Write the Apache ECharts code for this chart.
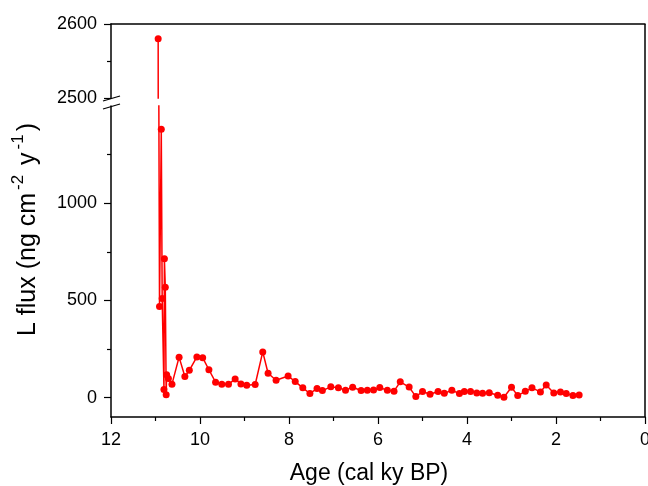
<!DOCTYPE html>
<html>
<head>
<meta charset="utf-8">
<script src="https://cdn.jsdelivr.net/npm/echarts@6/dist/echarts.min.js"></script>
<style>html,body{margin:0;padding:0;background:#fff}#c{width:648px;height:486px}</style>
</head>
<body>
<div id="c"></div>
<script>
// Age (cal ky BP)
var ages = [10.94,10.91,10.87,10.85,10.81,10.80,10.78,10.76,10.75,10.71,10.63,10.47,10.34,10.24,10.07,9.94,9.80,9.65,9.51,9.36,9.21,9.08,8.95,8.76,8.59,8.47,8.29,8.02,7.86,7.69,7.53,7.37,7.25,7.06,6.89,6.73,6.57,6.38,6.24,6.10,5.96,5.79,5.64,5.50,5.30,5.15,5.00,4.83,4.65,4.51,4.34,4.17,4.06,3.92,3.78,3.65,3.50,3.31,3.17,3.00,2.86,2.69,2.54,2.35,2.22,2.05,1.90,1.77,1.62,1.48];
// L flux (ng cm-2 y-1)
var flux = [2580,469,1380,510,41,714,567,15,117,98,69,208,108,140,209,205,143,79,68,68,96,70,63,67,235,125,89,111,82,50,21,46,36,55,51,38,53,36,37,39,52,37,33,81,54,5,31,17,31,22,37,21,31,31,23,22,25,12,2,53,10,32,50,29,65,24,29,21,10,13];
var lowTicks = [0,500,1000];
var lowMinor = [250,750,1250];

var points = ages.map(function(a,i){return [a, flux[i]];});

var L = 111, R = 3, T = 24, UPH = 74, LOWTOP = 106, B = 69;
var font = 'Arial, "Liberation Sans", sans-serif';
var black = '#000';
var plain = function(v){ return String(v); };

var chart = echarts.init(document.getElementById('c'), null, {renderer:'canvas'});

function xAx(idx, pos){
  var bottom = pos === 'bottom';
  return {
    type:'value', gridIndex: idx, min:0, max:12, interval:2, inverse:true,
    position: pos,
    axisLine:{show:true, onZero:false, lineStyle:{color:black, width:1.5}},
    axisTick:{show: bottom, length:7, lineStyle:{color:black, width:1.2}},
    minorTick:{show: bottom, splitNumber:2, length:4, lineStyle:{color:black, width:1.2}},
    axisLabel:{show: bottom, color:black, fontSize:18, fontFamily:font, margin:14, formatter:plain},
    splitLine:{show:false}
  };
}

var gridBase = {left:L, right:R, containLabel:false, outerBoundsMode:'none'};

var option = {
  animation:false,
  backgroundColor:'#fff',
  grid:[
    Object.assign({top:T, height:UPH}, gridBase),
    Object.assign({top:LOWTOP, bottom:B}, gridBase),
    Object.assign({top:T + 18, bottom:B}, gridBase)
  ],
  xAxis:[
    xAx(0, 'top'),
    Object.assign(xAx(1, 'bottom'), {
      name:'Age (cal ky BP)', nameLocation:'middle', nameGap:45,
      nameTextStyle:{color:black, fontSize:23, fontFamily:font, padding:[0,18,0,0]}
    }),
    {type:'value', gridIndex:2, min:0, max:12, show:false}
  ],
  yAxis:[
    {type:'value', gridIndex:0, position:'left', min:2500, max:2600, interval:100,
      axisLine:{show:true, onZero:false, lineStyle:{color:black, width:1.5}},
      axisTick:{show:true, length:7, lineStyle:{color:black, width:1.2}},
      minorTick:{show:true, splitNumber:2, length:4, lineStyle:{color:black, width:1.2}},
      axisLabel:{color:black, fontSize:18, fontFamily:font, margin:14, formatter:plain, showMinLabel:true, showMaxLabel:true},
      splitLine:{show:false}},
    {type:'value', gridIndex:1, position:'left', min:-100, max:1500,
      axisLine:{show:true, onZero:false, lineStyle:{color:black, width:1.5}},
      axisTick:{show:true, length:7, customValues:lowTicks, lineStyle:{color:black, width:1.2}},
      axisLabel:{color:black, fontSize:18, fontFamily:font, margin:14, customValues:lowTicks, formatter:plain},
      splitLine:{show:false}},
    {type:'value', gridIndex:1, position:'left', offset:0, min:-100, max:1500,
      axisLine:{show:false, onZero:false},
      axisTick:{show:true, length:4, customValues:lowMinor, lineStyle:{color:black, width:1.2}},
      axisLabel:{show:false},
      splitLine:{show:false}},
    {type:'value', gridIndex:2, position:'left', min:0, max:1,
      name:'{a|L flux (ng cm}{s|-2}{a| y}{s|-1}{a|)}',
      nameLocation:'middle', nameGap:70,
      nameTextStyle:{color:black, fontFamily:font,
        rich:{
          a:{fontSize:25, fontFamily:font, color:black, lineHeight:31, verticalAlign:'bottom'},
          s:{fontSize:17, fontFamily:font, color:black, lineHeight:19, verticalAlign:'top', padding:[0,3,0,3]}
        }},
      axisLine:{show:false, onZero:false}, axisTick:{show:false}, axisLabel:{show:false}, splitLine:{show:false}}
  ],
  series:[
    {type:'line', xAxisIndex:0, yAxisIndex:0, data:points, clip:true,
      symbol:'circle', symbolSize:7, showSymbol:true,
      itemStyle:{color:'#ff0000'}, lineStyle:{color:'#ff0000', width:1.5}},
    {type:'line', xAxisIndex:1, yAxisIndex:1, data:points, clip:true,
      symbol:'circle', symbolSize:7, showSymbol:true,
      itemStyle:{color:'#ff0000'}, lineStyle:{color:'#ff0000', width:1.5}}
  ]
};
chart.setOption(option);

// decorations: right frame and axis break marks
var W = 648, H = 486;
var xr = W - R, yb = H - B;
var ymid = (T + UPH + LOWTOP) / 2;
chart.setOption({
  graphic:[
    {type:'line', shape:{x1:xr, y1:T, x2:xr, y2:yb}, style:{stroke:black, lineWidth:1.5}, silent:true},
    {type:'line', shape:{x1:L-8, y1:ymid-1, x2:L+9, y2:ymid-6}, style:{stroke:black, lineWidth:1.3}, silent:true},
    {type:'line', shape:{x1:L-8, y1:ymid+7, x2:L+9, y2:ymid+2}, style:{stroke:black, lineWidth:1.3}, silent:true}
  ]
});
</script>
</body>
</html>
